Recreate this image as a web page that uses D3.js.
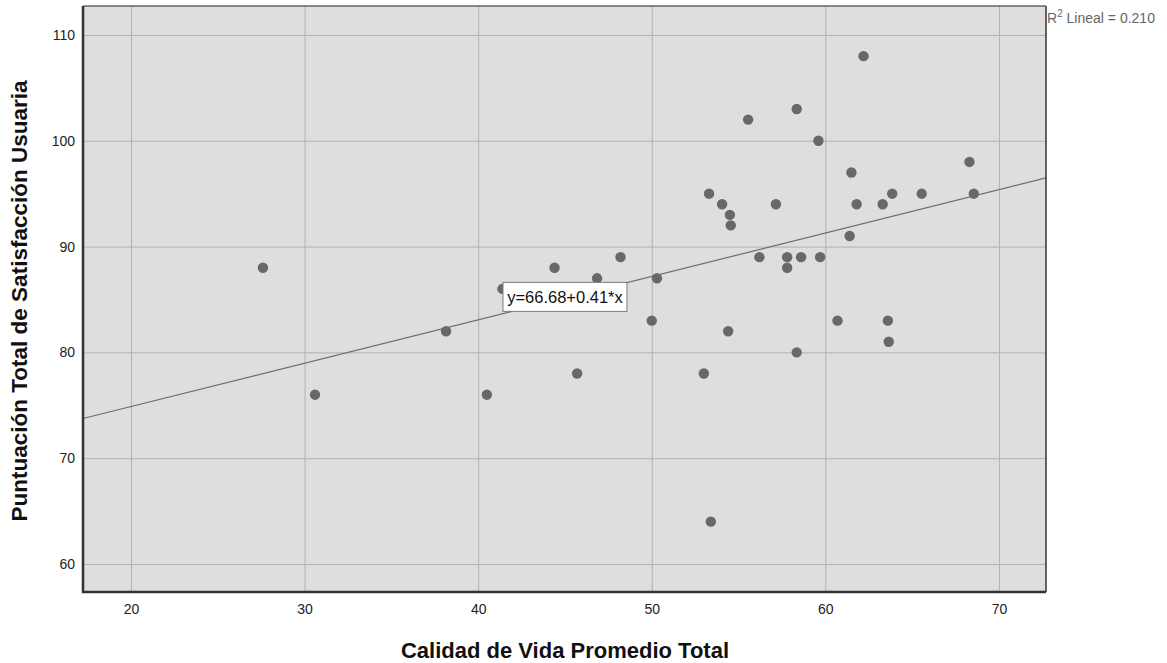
<!DOCTYPE html>
<html>
<head>
<meta charset="utf-8">
<script src="https://cdn.jsdelivr.net/npm/d3@7"></script>
<style>
  body { margin: 0; background: #fff; }
  text { font-family: Arial, "Liberation Sans", sans-serif; }
</style>
</head>
<body>
<div id="chart"></div>
<script>
const svgWidth = 1167;
const svgHeight = 663;

// plot area (pixel box of the SPSS frame)
const margin = { top: 6, right: 121, bottom: 71, left: 83 };
const width = svgWidth - margin.left - margin.right;
const height = svgHeight - margin.top - margin.bottom;

// data
const calidadVida = [27.6, 30.6, 38.15, 40.5, 41.4, 44.4, 45.7, 46.85, 48.2, 50.0,
  50.3, 53.0, 53.3, 53.4, 54.05, 54.4, 54.5, 54.55, 55.55, 56.2,
  57.15, 57.8, 57.8, 58.35, 58.35, 58.6, 59.6, 59.7, 60.7, 61.4,
  61.5, 61.8, 62.2, 63.3, 63.6, 63.65, 63.85, 65.55, 68.3, 68.55];
const satisfaccion = [88, 76, 82, 76, 86, 88, 78, 87, 89, 83,
  87, 78, 95, 64, 94, 82, 93, 92, 102, 89,
  94, 89, 88, 103, 80, 89, 100, 89, 83, 91,
  97, 94, 108, 94, 83, 81, 95, 95, 98, 95];
const xTicks = [20, 30, 40, 50, 60, 70];
const yTicks = [60, 70, 80, 90, 100, 110];
const intercept = 66.68;
const slope = 0.41;
const rSquared = 0.210;

const points = calidadVida.map((x, i) => ({ x: x, y: satisfaccion[i] }));

const svg = d3.select("#chart")
  .append("svg")
  .attr("width", svgWidth)
  .attr("height", svgHeight);

const chartGroup = svg.append("g")
  .attr("transform", `translate(${margin.left}, ${margin.top})`);

const xScale = d3.scaleLinear().domain([17.235, 72.71]).range([0, width]);
const yScale = d3.scaleLinear().domain([57.35, 112.74]).range([height, 0]);

// background
chartGroup.append("rect")
  .attr("width", width)
  .attr("height", height)
  .attr("fill", "#dedede");

// grid lines
chartGroup.append("g")
  .attr("transform", `translate(0, ${height})`)
  .call(d3.axisBottom(xScale).tickValues(xTicks).tickSize(-height).tickFormat(""))
  .call(g => g.select(".domain").remove())
  .call(g => g.selectAll("line").attr("stroke", "#b2b2b2").attr("stroke-width", 1));

chartGroup.append("g")
  .call(d3.axisLeft(yScale).tickValues(yTicks).tickSize(-width).tickFormat(""))
  .call(g => g.select(".domain").remove())
  .call(g => g.selectAll("line").attr("stroke", "#b2b2b2").attr("stroke-width", 1));

// tick labels
chartGroup.append("g")
  .attr("transform", `translate(0, ${height})`)
  .call(d3.axisBottom(xScale).tickValues(xTicks).tickSize(0).tickPadding(12))
  .call(g => g.select(".domain").remove())
  .call(g => g.selectAll("text").attr("font-size", 14).attr("fill", "#222")
    .style("font-family", "Arial, 'Liberation Sans', sans-serif"));

chartGroup.append("g")
  .call(d3.axisLeft(yScale).tickValues(yTicks).tickSize(0).tickPadding(8))
  .call(g => g.select(".domain").remove())
  .call(g => g.selectAll("text").attr("font-size", 14).attr("fill", "#222")
    .style("font-family", "Arial, 'Liberation Sans', sans-serif"));

// fit line
const xDom = xScale.domain();
chartGroup.append("line")
  .attr("x1", xScale(xDom[0]))
  .attr("y1", yScale(intercept + slope * xDom[0]))
  .attr("x2", xScale(xDom[1]))
  .attr("y2", yScale(intercept + slope * xDom[1]))
  .attr("stroke", "#6e6e6e")
  .attr("stroke-width", 1.2);

// points
chartGroup.selectAll(".pt")
  .data(points)
  .enter()
  .append("circle")
  .attr("class", "pt")
  .attr("cx", d => xScale(d.x))
  .attr("cy", d => yScale(d.y))
  .attr("r", 5.2)
  .attr("fill", "#686868");

// equation label
const eqX = 45.0;
const eqG = chartGroup.append("g")
  .attr("transform", `translate(${xScale(eqX) - 62}, ${yScale(85.2) - 15})`);
eqG.append("rect")
  .attr("width", 124)
  .attr("height", 29)
  .attr("fill", "#fff")
  .attr("stroke", "#7a7a7a")
  .attr("stroke-width", 1);
eqG.append("text")
  .attr("x", 62)
  .attr("y", 20.5)
  .attr("text-anchor", "middle")
  .attr("font-size", 16.5)
  .attr("fill", "#111")
  .text(`y=${intercept.toFixed(2)}+${slope.toFixed(2)}*x`);

// frame
chartGroup.append("line").attr("x1", 0).attr("x2", width).attr("y1", 0).attr("y2", 0)
  .attr("stroke", "#222").attr("stroke-width", 1);
chartGroup.append("line").attr("x1", width).attr("x2", width).attr("y1", 0).attr("y2", height)
  .attr("stroke", "#333").attr("stroke-width", 1.5);
chartGroup.append("line").attr("x1", 0).attr("x2", 0).attr("y1", 0).attr("y2", height + 1)
  .attr("stroke", "#333").attr("stroke-width", 2.5);
chartGroup.append("line").attr("x1", -1).attr("x2", width).attr("y1", height).attr("y2", height)
  .attr("stroke", "#333").attr("stroke-width", 2.5);

// R squared label
const rText = chartGroup.append("text")
  .attr("x", width + 1)
  .attr("y", 17)
  .attr("font-size", 14)
  .attr("fill", "#666");
rText.append("tspan").text("R");
rText.append("tspan").attr("dy", -6).attr("font-size", 10).text("2");
rText.append("tspan").attr("dy", 6).text(` Lineal = ${rSquared.toFixed(3)}`);

// axis titles
svg.append("text")
  .attr("x", 565)
  .attr("y", 658)
  .attr("text-anchor", "middle")
  .attr("font-size", 22)
  .attr("font-weight", "bold")
  .attr("fill", "#111")
  .text("Calidad de Vida Promedio Total");

svg.append("text")
  .attr("transform", `translate(27, 301) rotate(-90)`)
  .attr("text-anchor", "middle")
  .attr("font-size", 22.5)
  .attr("font-weight", "bold")
  .attr("fill", "#111")
  .text("Puntuación Total de Satisfacción Usuaria");
</script>
</body>
</html>
